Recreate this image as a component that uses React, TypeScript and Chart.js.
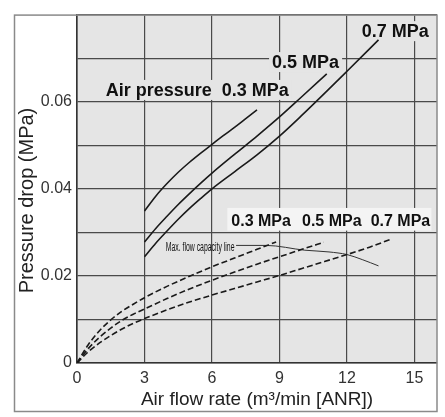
import React, { useEffect, useRef } from 'react';
import { Chart, registerables } from 'chart.js';

Chart.register(...registerables);

// ---- data (x: air flow rate m3/min, y: pressure drop MPa) ----
const solid03X = [3, 3.5, 4, 4.5, 5, 5.5, 6, 6.5, 7, 7.5, 8];
const solid03Y = [0.0349, 0.0383, 0.0412, 0.0438, 0.0461, 0.0482, 0.0502, 0.0522, 0.0541, 0.0561, 0.0581];

const solid05X = [3, 3.5, 4, 4.5, 5, 5.5, 6, 7, 8, 9, 10, 11.1];
const solid05Y = [0.0278, 0.0309, 0.0337, 0.0364, 0.0389, 0.0413, 0.0436, 0.0479, 0.0521, 0.0565, 0.0612, 0.0664];

const solid07X = [3, 3.5, 4, 4.5, 5, 5.5, 6, 7, 8, 9, 10, 11, 12, 13.4];
const solid07Y = [0.0244, 0.0275, 0.0303, 0.033, 0.0355, 0.0378, 0.04, 0.0439, 0.0478, 0.0521, 0.0569, 0.0619, 0.067, 0.0742];

const dash03X = [0, 0.5, 1, 1.5, 2, 2.5, 3, 4, 5, 6, 7, 8, 8.85];
const dash03Y = [0, 0.0042, 0.0074, 0.0099, 0.0119, 0.0135, 0.015, 0.0176, 0.0199, 0.0221, 0.0241, 0.0261, 0.0278];

const dash05X = [0, 0.5, 1, 1.5, 2, 2.5, 3, 4, 5, 6, 7, 8, 9, 10, 10.97];
const dash05Y = [0, 0.0033, 0.0059, 0.008, 0.0098, 0.0112, 0.0124, 0.0148, 0.017, 0.019, 0.0209, 0.0227, 0.0244, 0.0261, 0.0277];

const dash07X = [0, 0.5, 1, 1.5, 2, 2.5, 3, 4, 5, 6, 7, 8, 9, 10, 11, 12, 13, 13.94];
const dash07Y = [0, 0.0026, 0.0046, 0.0063, 0.0078, 0.0091, 0.0102, 0.0122, 0.014, 0.0156, 0.0171, 0.0186, 0.0201, 0.0217, 0.0233, 0.0249, 0.0266, 0.0284];

const maxFlowX = [7.07, 8.4, 10.13, 11.2, 12, 12.7, 13.4];
const maxFlowY = [0.027, 0.027, 0.0259, 0.0255, 0.0249, 0.0237, 0.0223];

const xMin = 0;
const xMax = 16;
const xStep = 3;
const yMin = 0;
const yMax = 0.08;
const yStep = 0.01;
const yLabelValues = [0, 0.02, 0.04, 0.06];

const xTitle = 'Air flow rate (m\u00b3/min [ANR])';
const yTitle = 'Pressure drop (MPa)';

// annotation texts with anchor in data coordinates
const upperLabels = [
  { text: 'Air pressure  0.3 MPa', x: 1.28, y: 0.0627 },
  { text: '0.5 MPa', x: 8.67, y: 0.0691 },
  { text: '0.7 MPa', x: 12.65, y: 0.0762 },
];
const lowerLabels = [
  { text: '0.3 MPa', x: 6.86, y: 0.0327 },
  { text: '0.5 MPa', x: 10.0, y: 0.0327 },
  { text: '0.7 MPa', x: 13.05, y: 0.0327 },
];
const lowerBox = { x0: 6.68, x1: 15.75, y0: 0.0356, y1: 0.0304 };
const maxFlowLabel = { text: 'Max. flow capacity line', x0: 3.94, x1: 7.0, y: 0.0268 };
const yTitleCenter = 0.0373; // y-axis title centred at this data value

const zip = (xs: number[], ys: number[]) => xs.map((x, i) => ({ x, y: ys[i] }));

const SANS = '"Liberation Sans", Arial, Helvetica, sans-serif';

export default function App() {
  const ref = useRef<HTMLCanvasElement | null>(null);

  useEffect(() => {
    if (!ref.current) return;
    const tickFont = { family: SANS, size: 16 };

    const solidStyle = {
      borderColor: '#1a1a1a',
      borderWidth: 1.6,
      pointRadius: 0,
      fill: false,
      cubicInterpolationMode: 'monotone' as const,
    };
    const dashStyle = { ...solidStyle, borderDash: [6, 3] };

    const deco = {
      id: 'deco',
      beforeDraw(chart: any) {
        const { ctx, chartArea: a } = chart;
        ctx.save();
        ctx.fillStyle = '#ffffff';
        ctx.fillRect(0, 0, chart.width, chart.height);
        ctx.fillStyle = '#e5e5e5';
        ctx.fillRect(a.left, a.top, a.right - a.left, a.bottom - a.top);
        ctx.restore();
      },
      beforeDatasetsDraw(chart: any) {
        const { ctx } = chart;
        const xs = chart.scales.x;
        const ys = chart.scales.y;
        ctx.save();
        ctx.font = `bold 18px ${SANS}`;
        ctx.textBaseline = 'middle';
        ctx.textAlign = 'left';
        for (const l of upperLabels) {
          const px = xs.getPixelForValue(l.x);
          const py = ys.getPixelForValue(l.y);
          const w = ctx.measureText(l.text).width;
          ctx.fillStyle = '#e5e5e5';
          ctx.fillRect(px - 3, py - 10, w + 6, 20);
          ctx.fillStyle = '#111';
          ctx.fillText(l.text, px, py + 1);
        }
        const bx0 = xs.getPixelForValue(lowerBox.x0);
        const bx1 = xs.getPixelForValue(lowerBox.x1);
        const by0 = ys.getPixelForValue(lowerBox.y0);
        const by1 = ys.getPixelForValue(lowerBox.y1);
        ctx.fillStyle = '#f4f4f4';
        ctx.fillRect(bx0, by0, bx1 - bx0, by1 - by0);
        ctx.font = `bold 16px ${SANS}`;
        ctx.fillStyle = '#111';
        for (const l of lowerLabels) {
          ctx.fillText(l.text, xs.getPixelForValue(l.x), ys.getPixelForValue(l.y) + 1);
        }
        ctx.font = `12px ${SANS}`;
        const mx0 = xs.getPixelForValue(maxFlowLabel.x0);
        const mx1 = xs.getPixelForValue(maxFlowLabel.x1);
        const my = ys.getPixelForValue(maxFlowLabel.y);
        const tw = ctx.measureText(maxFlowLabel.text).width;
        ctx.translate(mx0, my);
        ctx.scale((mx1 - mx0) / tw, 1);
        ctx.fillStyle = '#111';
        ctx.fillText(maxFlowLabel.text, 0, 1);
        ctx.restore();
      },
      afterDraw(chart: any) {
        const { ctx, chartArea: a } = chart;
        const ys = chart.scales.y;
        ctx.save();
        ctx.translate(27, ys.getPixelForValue(yTitleCenter));
        ctx.rotate(-Math.PI / 2);
        ctx.font = `20px ${SANS}`;
        ctx.fillStyle = '#222';
        ctx.textAlign = 'center';
        ctx.textBaseline = 'middle';
        ctx.fillText(yTitle, 0, 0);
        ctx.restore();
        ctx.save();
        ctx.strokeStyle = '#8a8a8a';
        ctx.lineWidth = 1.5;
        ctx.strokeRect(14.5, a.top + 0.5, a.right - 14.5, 411 - a.top);
        ctx.restore();
      },
    };

    const chart = new Chart(ref.current, {
      type: 'line',
      data: {
        datasets: [
          { label: '0.3 MPa', data: zip(solid03X, solid03Y), ...solidStyle },
          { label: '0.5 MPa', data: zip(solid05X, solid05Y), ...solidStyle },
          { label: '0.7 MPa', data: zip(solid07X, solid07Y), ...solidStyle },
          { label: '0.3 MPa dashed', data: zip(dash03X, dash03Y), ...dashStyle },
          { label: '0.5 MPa dashed', data: zip(dash05X, dash05Y), ...dashStyle },
          { label: '0.7 MPa dashed', data: zip(dash07X, dash07Y), ...dashStyle },
          { label: 'Max. flow capacity line', data: zip(maxFlowX, maxFlowY), ...solidStyle, borderWidth: 1, borderColor: '#333' },
        ],
      },
      options: {
        responsive: false,
        animation: false,
        layout: { padding: { top: 3, right: 8, left: 0, bottom: 0 } },
        plugins: { legend: { display: false }, tooltip: { enabled: false } },
        scales: {
          x: {
            type: 'linear',
            min: xMin,
            max: xMax,
            afterFit: (s: any) => { s.height = 54; },
            ticks: {
              stepSize: xStep,
              includeBounds: false,
              padding: 6,
              color: '#333',
              font: tickFont,
              maxRotation: 0,
              callback: (v: any) => String(v),
            },
            grid: { color: '#4a4a4a', lineWidth: 1.2, drawTicks: false },
            border: { display: true, color: '#333', width: 1.6 },
            title: {
              display: true,
              text: xTitle,
              color: '#222',
              font: { family: SANS, size: 19 },
              padding: { top: 0, bottom: 6 },
            },
          },
          y: {
            type: 'linear',
            min: yMin,
            max: yMax,
            afterFit: (s: any) => { s.width = 77; },
            ticks: {
              stepSize: yStep,
              padding: 5,
              color: '#333',
              font: tickFont,
              callback: (v: any) => {
                const n = Math.round(Number(v) * 100) / 100;
                return yLabelValues.some((t) => Math.abs(t - n) < 1e-9) ? (n === 0 ? '0' : n.toFixed(2)) : '';
              },
            },
            grid: { color: '#4a4a4a', lineWidth: 1.2, drawTicks: false },
            border: { display: true, color: '#333', width: 1.6 },
            title: { display: false },
          },
        },
      },
      plugins: [deco],
    });
    return () => chart.destroy();
  }, []);

  return (
    <div style={{ position: 'absolute', left: 0, top: 0, width: 445, height: 417 }}>
      <canvas ref={ref} width={445} height={417} style={{ width: 445, height: 417 }} />
    </div>
  );
}
